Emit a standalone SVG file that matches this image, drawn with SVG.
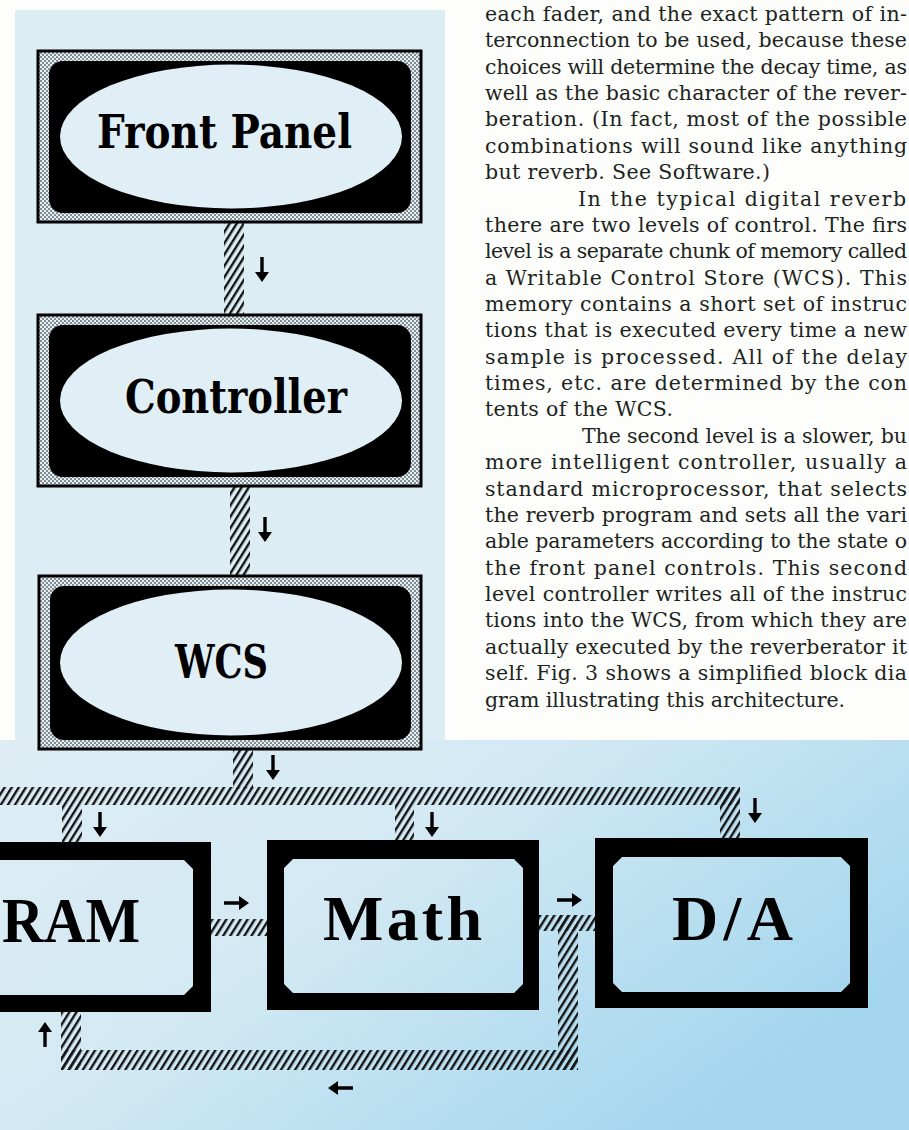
<svg xmlns="http://www.w3.org/2000/svg" xmlns:xlink="http://www.w3.org/1999/xlink" width="909" height="1130" viewBox="0 0 909 1130">
<defs>
  <linearGradient id="bg" x1="0" y1="0" x2="1" y2="0.6">
    <stop offset="0" stop-color="#deedf4"/>
    <stop offset="0.45" stop-color="#d3e9f3"/>
    <stop offset="1" stop-color="#a3d6ee"/>
  </linearGradient>
  <pattern id="hatch" width="6" height="6" patternUnits="userSpaceOnUse" patternTransform="rotate(32)">
    <rect width="2.4" height="6" fill="#141414"/>
  </pattern>
  <pattern id="dots" width="4" height="4" patternUnits="userSpaceOnUse">
    <rect width="4" height="4" fill="#e2eff5"/>
    <circle cx="1" cy="1" r="0.8" fill="#111"/>
    <circle cx="3" cy="3" r="0.8" fill="#111"/>
  </pattern>
  <path id="arr" d="M-1.7,-25 H1.7 V-10 H7 L0,0 L-7,-10 H-1.7 Z" fill="#000"/>
  <style>
    .frame{fill:url(#dots);stroke:#000;stroke-width:3}
    .inner{fill:#000}
    .oval{fill:#e0eef5}
    .olabel{font-family:"DejaVu Serif","Liberation Serif",serif;font-weight:bold;font-size:46px;fill:#000}
    .box{fill:#000;fill-rule:evenodd}
    .blabel{font-family:"Liberation Serif","DejaVu Serif",serif;font-weight:bold;font-size:64px;fill:#000}
    .bus{fill:url(#hatch)}
    .body{font-family:"DejaVu Serif","Liberation Serif",serif;font-size:20.5px;fill:#1c2420}
  </style>
</defs>

<!-- backgrounds -->
<rect width="909" height="1130" fill="#fdfdfc"/>
<rect x="15" y="10" width="430" height="730" fill="#ddedf4"/>
<rect x="0" y="740" width="909" height="390" fill="url(#bg)"/>

<!-- article text -->
<g id="article" class="body">
  <text x="485" y="20.7" textLength="422">each fader, and the exact pattern of in-</text>
  <text x="485" y="47" textLength="422">terconnection to be used, because these</text>
  <text x="485" y="73.5" textLength="422">choices will determine the decay time, as</text>
  <text x="485" y="100" textLength="422">well as the basic character of the rever-</text>
  <text x="485" y="126.3" textLength="422">beration. (In fact, most of the possible</text>
  <text x="485" y="152.7" textLength="422">combinations will sound like anything</text>
  <text x="485" y="179" textLength="285">but reverb. See Software.)</text>
  <text x="578" y="205.5" textLength="328">In the typical digital reverb</text>
  <text x="485" y="231.8" textLength="422">there are two levels of control. The firs</text>
  <text x="485" y="258.2" textLength="422">level is a separate chunk of memory called</text>
  <text x="485" y="284.6" textLength="422">a Writable Control Store (WCS). This</text>
  <text x="485" y="311" textLength="422">memory contains a short set of instruc</text>
  <text x="485" y="337.3" textLength="422">tions that is executed every time a new</text>
  <text x="485" y="363.7" textLength="422">sample is processed. All of the delay</text>
  <text x="485" y="390" textLength="422">times, etc. are determined by the con</text>
  <text x="485" y="416.4" textLength="188">tents of the WCS.</text>
  <text x="582" y="442.8" textLength="325">The second level is a slower, bu</text>
  <text x="485" y="469.2" textLength="422">more intelligent controller, usually a</text>
  <text x="485" y="495.6" textLength="422">standard microprocessor, that selects</text>
  <text x="485" y="522" textLength="422">the reverb program and sets all the vari</text>
  <text x="485" y="548.3" textLength="422">able parameters according to the state o</text>
  <text x="485" y="574.7" textLength="422">the front panel controls. This second</text>
  <text x="485" y="601" textLength="422">level controller writes all of the instruc</text>
  <text x="485" y="627.4" textLength="422">tions into the WCS, from which they are</text>
  <text x="485" y="653.8" textLength="422">actually executed by the reverberator it</text>
  <text x="485" y="680.2" textLength="422">self. Fig. 3 shows a simplified block dia</text>
  <text x="485" y="706.6" textLength="360">gram illustrating this architecture.</text>
</g>

<!-- connectors -->
<g id="connectors">
  <rect class="bus" x="224" y="222" width="20" height="93"/>
  <rect class="bus" x="230" y="486" width="20" height="90"/>
  <rect class="bus" x="233" y="749" width="20" height="40"/>
  <rect class="bus" x="0" y="787" width="740" height="18"/>
  <rect class="bus" x="720" y="787" width="20" height="51"/>
  <rect class="bus" x="62" y="805" width="20" height="37"/>
  <rect class="bus" x="395" y="805" width="19" height="35"/>
  <rect class="bus" x="211" y="919" width="56" height="17"/>
  <rect class="bus" x="539" y="915" width="56" height="16"/>
  <rect class="bus" x="558" y="915" width="20" height="155"/>
  <rect class="bus" x="61" y="1050" width="517" height="20"/>
  <rect class="bus" x="61" y="1012" width="20" height="58"/>
  <use xlink:href="#arr" transform="translate(262,282)"/>
  <use xlink:href="#arr" transform="translate(265,542)"/>
  <use xlink:href="#arr" transform="translate(273,780)"/>
  <use xlink:href="#arr" transform="translate(100,837)"/>
  <use xlink:href="#arr" transform="translate(432,837)"/>
  <use xlink:href="#arr" transform="translate(755,823)"/>
  <use xlink:href="#arr" transform="translate(249,903) rotate(-90)"/>
  <use xlink:href="#arr" transform="translate(582,900) rotate(-90)"/>
  <use xlink:href="#arr" transform="translate(45,1022) rotate(180)"/>
  <use xlink:href="#arr" transform="translate(328,1088) rotate(90)"/>
</g>

<!-- oval nodes -->
<g id="front-panel">
  <rect class="frame" x="38" y="51" width="383" height="171"/>
  <rect class="inner" x="49" y="61" width="362" height="152" rx="14"/>
  <ellipse class="oval" cx="231" cy="136.5" rx="171" ry="72"/>
  <text class="olabel" x="97" y="148" textLength="255" lengthAdjust="spacingAndGlyphs">Front Panel</text>
</g>
<g id="controller">
  <rect class="frame" x="38" y="315" width="383" height="171"/>
  <rect class="inner" x="49" y="325" width="362" height="152" rx="14"/>
  <ellipse class="oval" cx="231" cy="400.5" rx="171" ry="72"/>
  <text class="olabel" x="125" y="413" textLength="222" lengthAdjust="spacingAndGlyphs">Controller</text>
</g>
<g id="wcs">
  <rect class="frame" x="39" y="576" width="382" height="173"/>
  <rect class="inner" x="50" y="586" width="361" height="154" rx="14"/>
  <ellipse class="oval" cx="231" cy="662.5" rx="171" ry="73"/>
  <text class="olabel" x="175" y="678" textLength="93" lengthAdjust="spacingAndGlyphs">WCS</text>
</g>

<!-- rectangular nodes -->
<g id="ram">
  <path class="box" d="M-70,842 H211 V1012 H-70 Z M-52,860 H184 L193,869 V986 L184,995 H-52 Z"/>
  <text class="blabel" x="2" y="942" textLength="138" lengthAdjust="spacingAndGlyphs">RAM</text>
</g>
<g id="math">
  <path class="box" d="M267,840 H539 V1010 H267 Z M293,859 H514 L523,868 V984 L514,993 H293 L284,984 V868 Z"/>
  <text class="blabel" x="323" y="940" textLength="159">Math</text>
</g>
<g id="da">
  <path class="box" d="M595,838 H868 V1008 H595 Z M622,857 H841 L850,866 V983 L841,992 H622 L613,983 V866 Z"/>
  <text class="blabel" x="672" y="940" textLength="121">D/A</text>
</g>
</svg>
